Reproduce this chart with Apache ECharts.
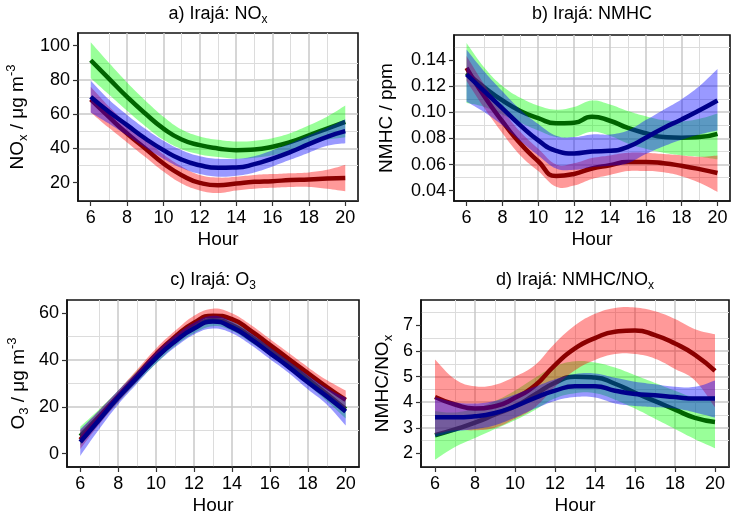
<!DOCTYPE html>
<html>
<head>
<meta charset="utf-8">
<script src="https://cdn.jsdelivr.net/npm/echarts@6/dist/echarts.min.js"></script>
<style>html,body{margin:0;padding:0;background:#fff;}#chart{width:734px;height:517px;}</style>
</head>
<body>
<div id="chart"></div>
<script>
// ---------- data ----------
const hours = [6, 7, 8, 9, 10, 11, 12, 13, 14, 15, 16, 17, 18, 19, 20];
const xTicks = [6, 8, 10, 12, 14, 16, 18, 20];

// a) NOx
const aGreen   = [91.5, 80.8, 70.1, 60.4, 51.6, 45.2, 41.9, 40, 39, 39.4, 41, 43.8, 47.7, 51.6, 55.5];
const aGreenHi = [102, 90, 78.5, 68, 58.5, 51, 47, 45, 44, 44.5, 46, 49, 53.5, 58.5, 65];
const aGreenLo = [81, 71.5, 62, 53, 45, 39.5, 36.5, 35, 34, 34.5, 36, 38.5, 42, 45, 46.5];
const aRed     = [68.6, 58.4, 48.7, 40, 31.2, 24.4, 19.9, 18.5, 19.5, 20.5, 20.9, 21.5, 21.8, 22.4, 22.8];
const aRedHi   = [76, 64.5, 54.5, 45.5, 36.5, 29.5, 24.5, 23, 23.5, 24.5, 25, 25.5, 26, 27.5, 30.5];
const aRedLo   = [61, 52, 43.5, 35, 26.5, 19.5, 15.5, 14, 15.5, 16.5, 17, 17.5, 17.5, 16.5, 15];
const aBlue    = [70.1, 61.4, 53.6, 45.8, 39, 33.5, 30.2, 28.7, 28.9, 30.8, 34.1, 38, 42.5, 46.8, 50.1];
const aBlueHi  = [79.5, 68.5, 59.5, 51.5, 44.5, 39, 35.5, 34, 34, 35.5, 39, 43, 47.5, 52, 57];
const aBlueLo  = [61, 54.5, 47.5, 40.5, 34, 28.5, 25, 23.5, 24, 26, 29.5, 33.5, 37.5, 41.5, 43];
const aTicks   = [20, 40, 60, 80, 100];

// b) NMHC
const bGreen   = [0.130, 0.119, 0.109, 0.101, 0.0955, 0.0915, 0.092, 0.0965, 0.0935, 0.088, 0.084, 0.081, 0.0805, 0.081, 0.0835];
const bGreenHi = [0.153, 0.134, 0.120, 0.111, 0.105, 0.102, 0.104, 0.109, 0.106, 0.101, 0.097, 0.094, 0.093, 0.095, 0.099];
const bGreenLo = [0.107, 0.104, 0.098, 0.092, 0.086, 0.081, 0.081, 0.085, 0.082, 0.076, 0.072, 0.069, 0.067, 0.066, 0.064];
const bRed     = [0.134, 0.112, 0.093, 0.076, 0.0625, 0.0512, 0.0528, 0.057, 0.0595, 0.062, 0.062, 0.061, 0.059, 0.0565, 0.0535];
const bRedHi   = [0.143, 0.121, 0.102, 0.085, 0.072, 0.060, 0.061, 0.065, 0.067, 0.069, 0.069, 0.068, 0.067, 0.066, 0.067];
const bRedLo   = [0.124, 0.103, 0.084, 0.067, 0.055, 0.043, 0.044, 0.049, 0.052, 0.055, 0.055, 0.054, 0.051, 0.046, 0.039];
const bBlue    = [0.129, 0.116, 0.103, 0.090, 0.0785, 0.0705, 0.0685, 0.070, 0.0705, 0.0735, 0.0805, 0.088, 0.0945, 0.1015, 0.109];
const bBlueHi  = [0.148, 0.131, 0.116, 0.102, 0.091, 0.082, 0.081, 0.083, 0.083, 0.086, 0.094, 0.102, 0.110, 0.120, 0.133];
const bBlueLo  = [0.108, 0.100, 0.090, 0.078, 0.067, 0.057, 0.056, 0.058, 0.059, 0.061, 0.068, 0.074, 0.079, 0.083, 0.086];
const bTicks   = [0.04, 0.06, 0.08, 0.10, 0.12, 0.14];

// c) O3
const cGreen   = [7.5, 16, 24.5, 33, 41, 48.5, 54, 57, 55, 50, 44.5, 38.5, 32, 25.5, 19];
const cGreenHi = [11.5, 19, 27, 35.5, 43.5, 51, 56.5, 59.5, 57.5, 52.5, 47, 41, 34.5, 28.5, 23];
const cGreenLo = [3.5, 13, 22, 30.5, 38.5, 46, 51.5, 54.5, 52.5, 47.5, 42, 36, 29.5, 22.5, 15];
const cRed     = [6, 15.5, 24.5, 33.5, 42.5, 50, 56, 59, 57.5, 52.5, 46.5, 40.5, 34.5, 28.5, 23];
const cRedHi   = [10, 18.5, 27, 36, 45, 52.5, 59, 62, 60, 55, 49, 43, 37, 31.5, 27];
const cRedLo   = [2, 12.5, 22, 31, 40, 47.5, 53, 56, 55, 50, 44, 38, 32, 25.5, 19];
const cBlue    = [5, 14.5, 24, 32.5, 41, 48, 53.5, 56.5, 54, 49, 43, 37, 30.5, 24.5, 18];
const cBlueHi  = [10.5, 18.5, 27, 35, 43.5, 50.5, 56, 59, 56.5, 51.5, 45.5, 39.5, 33.5, 28, 24];
const cBlueLo  = [-1, 10.5, 21, 30, 38.5, 45.5, 51, 53.5, 51.5, 46.5, 40.5, 34.5, 27.5, 21, 12];
const cTicks   = [0, 20, 40, 60];

// d) NMHC/NOx
const dGreen   = [2.71, 2.94, 3.2, 3.52, 3.84, 4.3, 4.76, 4.99, 4.96, 4.72, 4.37, 4.04, 3.71, 3.39, 3.23];
const dGreenHi = [3.65, 3.6, 3.75, 4.05, 4.45, 4.95, 5.4, 5.6, 5.55, 5.35, 5.05, 4.75, 4.45, 4.2, 4.25];
const dGreenLo = [1.75, 2.25, 2.6, 2.95, 3.3, 3.7, 4.15, 4.35, 4.35, 4.1, 3.75, 3.35, 2.95, 2.55, 2.2];
const dRed     = [4.2, 3.91, 3.75, 3.84, 4.17, 4.65, 5.45, 6.1, 6.5, 6.75, 6.8, 6.62, 6.29, 5.85, 5.22];
const dRedHi   = [5.67, 4.9, 4.62, 4.68, 5.0, 5.45, 6.3, 7.0, 7.45, 7.68, 7.7, 7.55, 7.25, 6.85, 6.65];
const dRedLo   = [2.75, 2.9, 2.9, 3.0, 3.35, 3.8, 4.6, 5.25, 5.65, 5.88, 5.88, 5.7, 5.3, 4.85, 3.8];
const dBlue    = [3.41, 3.41, 3.45, 3.58, 3.84, 4.17, 4.45, 4.62, 4.62, 4.45, 4.32, 4.27, 4.2, 4.14, 4.14];
const dBlueHi  = [4.2, 4.0, 3.95, 4.05, 4.3, 4.6, 4.9, 5.1, 5.12, 4.95, 4.8, 4.7, 4.6, 4.6, 4.85];
const dBlueLo  = [2.65, 2.85, 2.95, 3.1, 3.4, 3.75, 4.05, 4.2, 4.18, 3.95, 3.85, 3.8, 3.75, 3.6, 3.4];
const dTicks   = [2, 3, 4, 5, 6, 7];

// ---------- styling ----------
const FONT = "'Liberation Sans', Arial, sans-serif";
const GREEN_BAND = 'rgba(0,255,0,0.4)', GREEN_LINE = '#006400';
const RED_BAND = 'rgba(255,0,0,0.4)', RED_LINE = '#8B0000';
const BLUE_BAND = 'rgba(0,0,255,0.4)', BLUE_LINE = '#00008B';

const richName = {
  b: {fontSize: 19, lineHeight: 25, color: '#000', fontFamily: FONT},
  sub: {fontSize: 13, lineHeight: 14, verticalAlign: 'bottom', color: '#000', fontFamily: FONT},
  sup: {fontSize: 13, lineHeight: 14, verticalAlign: 'top', color: '#000', fontFamily: FONT}
};
const richTitle = {
  b: {fontSize: 18, lineHeight: 23, color: '#000', fontFamily: FONT},
  sub: {fontSize: 12, lineHeight: 13, verticalAlign: 'bottom', color: '#000', fontFamily: FONT}
};

const grids = [
  {left: 78, top: 33, width: 280, height: 168},
  {left: 454, top: 35, width: 276, height: 166},
  {left: 67, top: 300, width: 292, height: 167},
  {left: 421, top: 300, width: 308, height: 167}
];

const yDefs = [
  {min: 9.3, max: 107.4, split: 5, ticks: aTicks, name: '{b|NO}{sub|x}{b| / μg m}{sup|-3}', gap: 48, fmt: v => String(v)},
  {min: 0.0321, max: 0.1591, split: 6, ticks: bTicks, name: '{b|NMHC / ppm}', gap: 55, fmt: v => v.toFixed(2)},
  {min: -5.7, max: 65.7, split: 4, ticks: cTicks, name: '{b|O}{sub|3}{b| / μg m}{sup|-3}', gap: 36, fmt: v => String(v)},
  {min: 1.47, max: 7.99, split: 5, ticks: dTicks, name: '{b|NMHC/NO}{sub|x}', gap: 26, fmt: v => String(v)}
];

const titles = [
  {text: '{b|a) Irajá: NO}{sub|x}', x: 218, y: 3},
  {text: '{b|b) Irajá: NMHC}', x: 592, y: 3},
  {text: '{b|c) Irajá: O}{sub|3}', x: 213, y: 269},
  {text: '{b|d) Irajá: NMHC/NO}{sub|x}', x: 575, y: 269}
];

const panels = [
  [[aGreenLo, aGreenHi, aGreen, GREEN_BAND, GREEN_LINE], [aRedLo, aRedHi, aRed, RED_BAND, RED_LINE], [aBlueLo, aBlueHi, aBlue, BLUE_BAND, BLUE_LINE]],
  [[bGreenLo, bGreenHi, bGreen, GREEN_BAND, GREEN_LINE], [bRedLo, bRedHi, bRed, RED_BAND, RED_LINE], [bBlueLo, bBlueHi, bBlue, BLUE_BAND, BLUE_LINE]],
  [[cGreenLo, cGreenHi, cGreen, GREEN_BAND, GREEN_LINE], [cRedLo, cRedHi, cRed, RED_BAND, RED_LINE], [cBlueLo, cBlueHi, cBlue, BLUE_BAND, BLUE_LINE]],
  [[dGreenLo, dGreenHi, dGreen, GREEN_BAND, GREEN_LINE], [dRedLo, dRedHi, dRed, RED_BAND, RED_LINE], [dBlueLo, dBlueHi, dBlue, BLUE_BAND, BLUE_LINE]]
];

const SMOOTH = 0.55;
const BAND_SMOOTH = 0.4;
const pairs = arr => hours.map((h, i) => [h, arr[i]]);

// smooth bezier path through pixel points (cardinal-style)
function curveSeg(pts, s, startCmd) {
  let d = startCmd + pts[0][0] + ' ' + pts[0][1];
  for (let i = 0; i < pts.length - 1; i++) {
    const p0 = pts[Math.max(i - 1, 0)], p1 = pts[i], p2 = pts[i + 1], p3 = pts[Math.min(i + 2, pts.length - 1)];
    const c1x = p1[0] + (p2[0] - p0[0]) * s / 2, c1y = p1[1] + (p2[1] - p0[1]) * s / 2;
    const c2x = p2[0] - (p3[0] - p1[0]) * s / 2, c2y = p2[1] - (p3[1] - p1[1]) * s / 2;
    d += ' C ' + c1x + ' ' + c1y + ' ' + c2x + ' ' + c2y + ' ' + p2[0] + ' ' + p2[1];
  }
  return d;
}

function makeBandRender(bandData, fill) {
  return function (params, api) {
    if (params.dataIndex !== 0) return null;
    const up = bandData.map(r => api.coord([r[0], r[2]]));
    const lo = bandData.map(r => api.coord([r[0], r[1]])).reverse();
    const d = curveSeg(up, BAND_SMOOTH, 'M ') + ' ' + curveSeg(lo, BAND_SMOOTH, 'L ') + ' Z';
    return {type: 'path', shape: {pathData: d}, style: {fill: fill, stroke: null}};
  };
}

const option = {
  animation: false,
  backgroundColor: '#fff',
  title: titles.map(t => ({
    text: t.text, left: t.x, top: t.y, textAlign: 'center', padding: 0,
    textStyle: {rich: richTitle, fontFamily: FONT, fontWeight: 'normal'}
  })),
  grid: grids.map(g => Object.assign({show: true, borderColor: '#111', borderWidth: 1.6, backgroundColor: '#fff', containLabel: false}, g)),
  xAxis: grids.map((g, i) => ({
    type: 'value', gridIndex: i, min: 5.3, max: 20.7, splitNumber: 8,
    name: 'Hour', nameLocation: 'middle', nameGap: 29,
    nameTextStyle: {fontSize: 19, color: '#000', fontFamily: FONT},
    axisLine: {show: true, onZero: false, lineStyle: {color: '#111', width: 1.6}},
    axisTick: {show: true, length: 5, customValues: xTicks, lineStyle: {color: '#333', width: 1.2}},
    axisLabel: {customValues: xTicks, fontSize: 18, color: '#000', fontFamily: FONT, margin: 8},
    splitLine: {show: true, showMinLine: false, showMaxLine: false, lineStyle: {color: '#c8c8c8', width: 1.5}},
    minorTick: {show: false, splitNumber: 2},
    minorSplitLine: {show: true, lineStyle: {color: '#dcdcdc', width: 1}}
  })),
  yAxis: yDefs.map((d, i) => ({
    type: 'value', gridIndex: i, min: d.min, max: d.max, splitNumber: d.split,
    name: d.name, nameLocation: 'middle', nameGap: d.gap,
    nameTextStyle: {rich: richName, fontFamily: FONT, color: '#000'},
    axisLine: {show: true, onZero: false, lineStyle: {color: '#111', width: 1.6}},
    axisTick: {show: true, length: 5, customValues: d.ticks, lineStyle: {color: '#333', width: 1.2}},
    axisLabel: {customValues: d.ticks, fontSize: 18, color: '#000', fontFamily: FONT, margin: 8, formatter: d.fmt},
    splitLine: {show: true, showMinLine: false, showMaxLine: false, lineStyle: {color: '#c8c8c8', width: 1.5}},
    minorTick: {show: false, splitNumber: 2},
    minorSplitLine: {show: true, lineStyle: {color: '#dcdcdc', width: 1}}
  })),
  series: []
};

panels.forEach((groups, pi) => {
  groups.forEach((grp, gi) => {
    const [lo, hi, line, band, lc] = grp;
    const bandData = hours.map((h, i) => [h, lo[i], hi[i]]);
    option.series.push({
      type: 'custom', xAxisIndex: pi, yAxisIndex: pi, clip: true, silent: true,
      z: 2 + gi * 2,
      data: bandData,
      encode: {x: 0, y: [1, 2]},
      renderItem: makeBandRender(bandData, band)
    });
    option.series.push({
      type: 'line', xAxisIndex: pi, yAxisIndex: pi,
      z: 3 + gi * 2,
      data: pairs(line), smooth: SMOOTH, symbol: 'none',
      lineStyle: {color: lc, width: 4.5, cap: 'butt'}, silent: true
    });
  });
});

const chart = echarts.init(document.getElementById('chart'), null, {renderer: 'canvas'});
chart.setOption(option);
</script>
</body>
</html>
